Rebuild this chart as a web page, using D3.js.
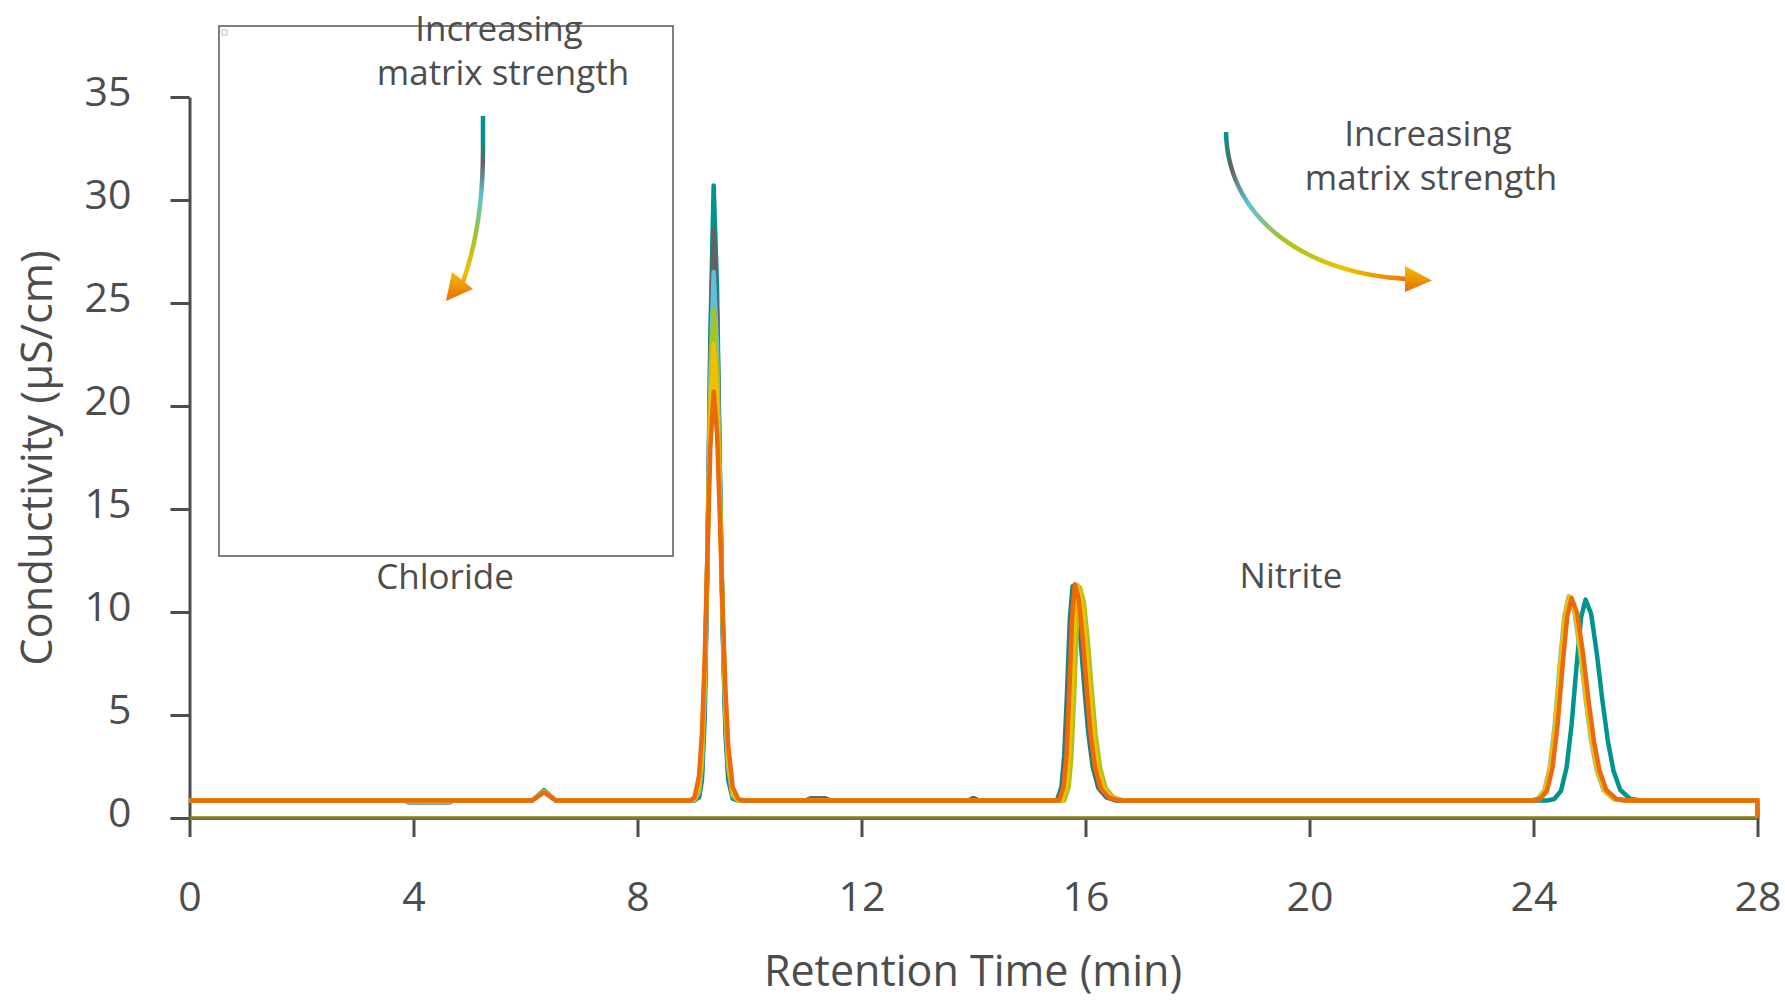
<!DOCTYPE html>
<html>
<head>
<meta charset="utf-8">
<script src="https://cdn.jsdelivr.net/npm/d3@7"></script>
<style>
  html, body { margin: 0; padding: 0; background: #fff; }
  svg { display: block; font-family: "Open Sans", "Noto Sans", sans-serif; }
</style>
</head>
<body>
<svg id="chart" width="1785" height="1000"></svg>
<script>
// ---------- data ----------
const xTicks = [0, 4, 8, 12, 16, 20, 24, 28];
const yTicks = [0, 5, 10, 15, 20, 25, 30, 35];
const seriesNames = ["teal", "gray", "lightblue", "yellowgreen", "yellow", "orange"];
const seriesColors = ["#00948f", "#626262", "#5bc2d9", "#a8c41c", "#f0bf00", "#eb6a0c"];

const teal = [
  [0,0.85],[3.85,0.85],[3.9,0.77],[4.65,0.77],[4.7,0.85],
  [6.12,0.85],[6.33,1.35],[6.54,0.85],
  [8.95,0.85],[9.02,0.85],[9.10,1.0],[9.15,1.8],[9.20,4.89],[9.25,12.45],[9.30,23.35],[9.36,30.7],[9.42,25.75],[9.47,17.15],[9.52,9.15],[9.57,4.13],[9.62,1.85],[9.70,0.94],[9.80,0.85],
  [11.0,0.85],[11.1,0.95],[11.35,0.95],[11.45,0.85],
  [13.9,0.85],[14.0,0.97],[14.1,0.85],
  [15.49,0.85],[15.57,1.51],[15.62,3.05],[15.67,6.1],[15.72,9.68],[15.77,11.25],[15.84,10.55],[15.91,8.7],[15.98,6.3],[16.05,4.1],[16.13,2.45],[16.23,1.45],[16.37,1.0],[16.55,0.85],
  [24.25,0.85],[24.37,0.92],[24.49,1.31],[24.59,2.44],[24.68,4.52],[24.77,7.42],[24.85,9.74],[24.93,10.6],[25.03,9.9],[25.13,8.0],[25.23,5.72],[25.33,3.7],[25.43,2.28],[25.55,1.36],[25.73,0.92],[25.93,0.85],
  [28,0.85],[28,0]
];
const gray = [
  [0,0.85],[3.85,0.85],[3.9,0.78],[4.65,0.78],[4.7,0.85],
  [6.12,0.85],[6.33,1.28],[6.54,0.85],
  [8.95,0.85],[9.02,0.85],[9.10,1.11],[9.15,2.16],[9.20,5.58],[9.25,12.85],[9.30,22.45],[9.36,28.6],[9.42,24.45],[9.47,16.85],[9.52,9.54],[9.57,4.6],[9.62,2.14],[9.70,1.0],[9.80,0.85],
  [11.0,0.85],[11.1,0.95],[11.35,0.95],[11.45,0.85],
  [13.9,0.85],[14.0,0.95],[14.1,0.85],
  [15.51,0.85],[15.59,1.51],[15.64,3.05],[15.69,6.1],[15.74,9.68],[15.79,11.25],[15.86,10.55],[15.93,8.7],[16.00,6.3],[16.07,4.1],[16.15,2.45],[16.25,1.45],[16.39,1.0],[16.57,0.85],
  [23.98,0.85],[24.10,0.92],[24.22,1.31],[24.32,2.44],[24.41,4.52],[24.50,7.42],[24.58,9.74],[24.66,10.7],[24.76,9.97],[24.86,8.1],[24.96,5.78],[25.06,3.72],[25.16,2.29],[25.28,1.36],[25.46,0.92],[25.66,0.85],
  [28,0.85],[28,0]
];
const lightblue = [
  [0,0.85],[3.85,0.85],[3.9,0.78],[4.65,0.78],[4.7,0.85],
  [6.12,0.85],[6.33,1.3],[6.54,0.85],
  [8.95,0.85],[9.02,0.85],[9.10,1.25],[9.15,2.54],[9.20,6.13],[9.25,13.0],[9.30,21.35],[9.36,26.5],[9.42,22.95],[9.47,16.42],[9.52,9.75],[9.57,5.01],[9.62,2.42],[9.70,1.07],[9.80,0.85],
  [15.55,0.85],[15.63,1.51],[15.68,3.05],[15.73,6.1],[15.78,9.65],[15.83,11.2],[15.90,10.5],[15.97,8.65],[16.04,6.25],[16.11,4.08],[16.19,2.44],[16.29,1.45],[16.43,1.0],[16.61,0.85],
  [23.95,0.85],[24.07,0.92],[24.19,1.31],[24.29,2.45],[24.38,4.55],[24.47,7.48],[24.55,9.81],[24.63,10.76],[24.73,10.02],[24.83,8.13],[24.93,5.8],[25.03,3.74],[25.13,2.3],[25.25,1.37],[25.43,0.92],[25.63,0.85],
  [28,0.85],[28,0]
];
const yellowgreen = [
  [0,0.85],
  [6.12,0.85],[6.33,1.28],[6.54,0.85],
  [8.95,0.85],[9.02,0.89],[9.10,1.41],[9.15,2.93],[9.20,6.63],[9.25,13.05],[9.30,20.35],[9.36,24.7],[9.42,21.65],[9.47,15.95],[9.52,9.91],[9.57,5.35],[9.62,2.7],[9.70,1.15],[9.80,0.85],
  [15.62,0.85],[15.70,1.51],[15.75,3.05],[15.80,6.1],[15.85,9.65],[15.90,11.2],[15.97,10.5],[16.04,8.65],[16.11,6.25],[16.18,4.08],[16.26,2.44],[16.36,1.45],[16.50,1.0],[16.68,0.85],
  [23.97,0.85],[24.09,0.92],[24.21,1.31],[24.31,2.44],[24.40,4.53],[24.49,7.44],[24.57,9.76],[24.65,10.7],[24.75,9.97],[24.85,8.1],[24.95,5.78],[25.05,3.72],[25.15,2.29],[25.27,1.36],[25.45,0.92],[25.65,0.85],
  [28,0.85],[28,0]
];
const yellow = [
  [0,0.85],
  [6.12,0.85],[6.33,1.27],[6.54,0.85],
  [8.95,0.85],[9.02,0.92],[9.10,1.6],[9.15,3.29],[9.20,7.01],[9.25,12.95],[9.30,19.35],[9.36,23.0],[9.42,20.4],[9.47,15.4],[9.52,9.95],[9.57,5.64],[9.62,2.95],[9.70,1.25],[9.80,0.85],
  [15.58,0.85],[15.66,1.51],[15.71,3.05],[15.76,6.1],[15.81,9.7],[15.86,11.3],[15.93,10.58],[16.00,8.72],[16.07,6.3],[16.14,4.1],[16.22,2.45],[16.32,1.45],[16.46,1.0],[16.64,0.85],
  [23.96,0.85],[24.08,0.92],[24.20,1.31],[24.30,2.45],[24.39,4.55],[24.48,7.48],[24.56,9.81],[24.64,10.76],[24.74,10.02],[24.84,8.13],[24.94,5.8],[25.04,3.74],[25.14,2.3],[25.26,1.37],[25.44,0.92],[25.64,0.85],
  [28,0.85],[28,0]
];
const orange = [
  [0,0.85],
  [6.12,0.85],[6.33,1.25],[6.54,0.85],
  [8.95,0.85],[9.02,1.02],[9.10,2.06],[9.15,4.07],[9.20,7.74],[9.25,12.89],[9.30,17.95],[9.36,20.7],[9.42,18.69],[9.47,14.72],[9.52,10.16],[9.57,6.23],[9.62,3.53],[9.70,1.5],[9.80,0.92],[9.90,0.85],
  [15.53,0.85],[15.61,1.51],[15.66,3.05],[15.71,6.1],[15.76,9.68],[15.81,11.35],[15.88,10.6],[15.95,8.75],[16.02,6.32],[16.09,4.1],[16.17,2.45],[16.27,1.45],[16.41,1.0],[16.59,0.85],
  [24.0,0.85],[24.12,0.92],[24.24,1.31],[24.34,2.44],[24.43,4.52],[24.52,7.42],[24.60,9.74],[24.68,10.68],[24.78,9.95],[24.88,8.08],[24.98,5.77],[25.08,3.72],[25.18,2.29],[25.30,1.36],[25.48,0.92],[25.68,0.85],
  [28,0.85],[28,0]
];
const blank = [[0,0],[28,0]];
const seriesData = [teal, gray, lightblue, yellowgreen, yellow, orange];

const xTitle = "Retention Time (min)";
const yTitle = "Conductivity (µS/cm)";
const annotations = [
  { text: "Increasing", x: 499, y: 41 },
  { text: "matrix strength", x: 503, y: 85 },
  { text: "Increasing", x: 1428, y: 146 },
  { text: "matrix strength", x: 1431, y: 190 },
  { text: "Chloride", x: 445, y: 589 },
  { text: "Nitrite", x: 1291, y: 588 }
];

// ---------- drawing ----------
const svg = d3.select("#chart");
const textColor = "#4d4d4d";
const axisColor = "#4d4d4d";

const x = d3.scaleLinear().domain([0, 28]).range([189.5, 1757.5]);
const y = d3.scaleLinear().domain([0, 35]).range([818, 97]);

// inset box
svg.append("rect")
  .attr("x", 219).attr("y", 26).attr("width", 454).attr("height", 530)
  .attr("fill", "none").attr("stroke", "#555").attr("stroke-width", 1.5);
svg.append("rect")
  .attr("x", 222).attr("y", 30).attr("width", 5).attr("height", 5)
  .attr("fill", "none").attr("stroke", "#aaa").attr("stroke-width", 0.8);

// axes
const xAxis = svg.append("g").attr("transform", `translate(0,${y(0)})`)
  .call(d3.axisBottom(x).tickValues(xTicks).tickSize(19).tickSizeOuter(0).tickPadding(45));
const yAxis = svg.append("g").attr("transform", `translate(${x(0)},0)`)
  .call(d3.axisLeft(y).tickValues(yTicks).tickSize(19).tickSizeOuter(0).tickPadding(39));
[xAxis, yAxis].forEach(g => {
  g.selectAll("path.domain").attr("stroke", axisColor).attr("stroke-width", 3);
  g.selectAll(".tick line").attr("stroke", axisColor).attr("stroke-width", 3);
  g.selectAll(".tick text").attr("fill", textColor)
    .style("font-size", "41px").style("font-family", "'Open Sans', sans-serif");
});
yAxis.selectAll(".tick text").attr("dy", "0.2em");

// axis titles
svg.append("text").text(xTitle)
  .attr("x", 973).attr("y", 986).attr("text-anchor", "middle")
  .attr("fill", textColor).style("font-size", "43px");
svg.append("text").text(yTitle)
  .attr("transform", `translate(52,458) rotate(-90)`).attr("text-anchor", "middle")
  .attr("fill", textColor).style("font-size", "43.5px");

// lines
const line = d3.line().x(d => x(d[0])).y(d => y(d[1])).curve(d3.curveLinear);
svg.append("path").datum(blank)
  .attr("d", line).attr("fill", "none").attr("stroke", "#857a1d").attr("stroke-width", 3.5);
seriesData.forEach((s, i) => {
  svg.append("path").datum(s)
    .attr("class", "series " + seriesNames[i])
    .attr("d", line).attr("fill", "none")
    .attr("stroke", seriesColors[i]).attr("stroke-width", 4.5)
    .attr("stroke-linejoin", "round");
});

// annotations
annotations.forEach(a => {
  svg.append("text").text(a.text)
    .attr("x", a.x).attr("y", a.y).attr("text-anchor", "middle")
    .attr("fill", textColor).style("font-size", "35px");
});

// gradient arrows
const defs = svg.append("defs");
const g1 = defs.append("linearGradient").attr("id", "arrowGrad1")
  .attr("gradientUnits", "userSpaceOnUse")
  .attr("x1", 483).attr("y1", 116).attr("x2", 460).attr("y2", 300);
[[0, "#00948f"], [0.12, "#00948f"], [0.25, "#626262"], [0.43, "#5bc2d9"], [0.66, "#a8c41c"], [0.85, "#f0bf00"], [1, "#eb6a0c"]]
  .forEach(s => g1.append("stop").attr("offset", s[0]).attr("stop-color", s[1]));
const g2 = defs.append("linearGradient").attr("id", "arrowGrad2")
  .attr("gradientUnits", "userSpaceOnUse")
  .attr("x1", 1226).attr("y1", 132).attr("x2", 1432).attr("y2", 281);
[[0, "#00948f"], [0.1, "#626262"], [0.24, "#5bc2d9"], [0.44, "#a8c41c"], [0.7, "#f0bf00"], [0.95, "#eb6a0c"]]
  .forEach(s => g2.append("stop").attr("offset", s[0]).attr("stop-color", s[1]));
const g3 = defs.append("linearGradient").attr("id", "headGrad")
  .attr("x1", 0).attr("y1", 0).attr("x2", 0).attr("y2", 1);
[[0, "#f0bf00"], [1, "#eb6a0c"]]
  .forEach(s => g3.append("stop").attr("offset", s[0]).attr("stop-color", s[1]));

svg.append("path")
  .attr("d", "M483,116 L483,150 C483,200 476,245 463,282")
  .attr("fill", "none").attr("stroke", "url(#arrowGrad1)").attr("stroke-width", 4.5);
svg.append("path")
  .attr("d", "M452,272 L473,289 L446,301 Z")
  .attr("fill", "url(#headGrad)");

svg.append("path")
  .attr("d", "M1226,132 C1228,225 1315,275 1407,279")
  .attr("fill", "none").attr("stroke", "url(#arrowGrad2)").attr("stroke-width", 4.5);
svg.append("path")
  .attr("d", "M1405,266 L1432,280.5 L1405,292 Z")
  .attr("fill", "url(#headGrad)");
</script>
</body>
</html>
